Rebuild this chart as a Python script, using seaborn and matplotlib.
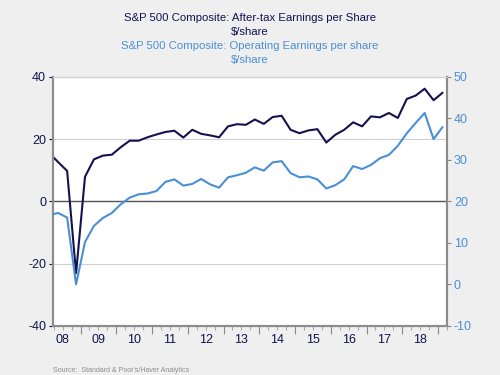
import numpy as np
import pandas as pd
import matplotlib
matplotlib.use("Agg")
import matplotlib.pyplot as plt
import seaborn as sns

# quarterly data, 2008Q1 - 2019Q1
years = [2008] * 4 + [2009] * 4 + [2010] * 4 + [2011] * 4 + [2012] * 4 + [2013] * 4 + \
        [2014] * 4 + [2015] * 4 + [2016] * 4 + [2017] * 4 + [2018] * 4 + [2019]
quarters = [1, 2, 3, 4] * 11 + [1]

# after-tax (as reported) EPS, left axis
after_tax = [15.5, 12.6, 9.8, -23.1,
             7.9, 13.5, 14.7, 15.0,
             17.4, 19.5, 19.5, 20.6,
             21.5, 22.3, 22.7, 20.5,
             23.0, 21.7, 21.2, 20.6,
             24.1, 24.8, 24.6, 26.3,
             24.9, 27.1, 27.5, 23.0,
             21.9, 22.8, 23.2, 18.9,
             21.4, 23.0, 25.4, 24.1,
             27.3, 27.0, 28.4, 26.8,
             32.9, 34.0, 36.2, 32.5,
             34.9]

# operating EPS, right axis
operating = [16.7, 17.2, 16.1, 0.0,
             10.2, 14.1, 16.0, 17.2,
             19.3, 20.9, 21.7, 21.9,
             22.5, 24.7, 25.3, 23.8,
             24.2, 25.4, 24.1, 23.3,
             25.8, 26.3, 26.9, 28.2,
             27.4, 29.4, 29.7, 26.8,
             25.8, 26.0, 25.3, 23.1,
             23.9, 25.3, 28.5, 27.8,
             28.8, 30.4, 31.2, 33.4,
             36.4, 38.9, 41.3, 35.0,
             37.9]

year_labels = ["08", "09", "10", "11", "12", "13", "14", "15", "16", "17", "18"]

navy = "#13124F"
blue = "#4A8FD6"
bg = "#EFEFEF"

df = pd.DataFrame({"year": years, "quarter": quarters,
                   "after_tax": after_tax, "operating": operating})
df["t"] = df["year"] + (df["quarter"] - 0.5) / 4

sns.set_style("white")
plt.rcParams["font.family"] = ["Liberation Sans", "DejaVu Sans"]
plt.rcParams["axes.unicode_minus"] = False

fig = plt.figure(figsize=(5, 3.75), dpi=100, facecolor=bg)
ax = fig.add_axes([0.106, 0.131, 0.788, 0.664])
ax.set_facecolor("white")
ax2 = ax.twinx()

sns.lineplot(data=df, x="t", y="after_tax", ax=ax, color=navy, linewidth=1.5, zorder=3)
sns.lineplot(data=df, x="t", y="operating", ax=ax2, color=blue, linewidth=1.5, zorder=3)

ax.set_xlim(2008.23, 2019.25)
ax.set_ylim(-40, 40)
ax2.set_ylim(-10, 50)

# left axis
ax.set_yticks([-40, -20, 0, 20, 40])
ax.yaxis.grid(True, color="#D0D0D0", linewidth=0.8)
ax.axhline(0, color="#555555", linewidth=1.0, zorder=2)
ax.tick_params(axis="y", colors=navy, labelsize=9, length=3, width=0.8,
               direction="out", left=True, pad=2)

# right axis
ax2.set_yticks([-10, 0, 10, 20, 30, 40, 50])
ax2.tick_params(axis="y", labelcolor=blue, color="#888888", labelsize=9, length=3,
                width=0.8, direction="out", right=True, pad=2)
ax2.grid(False)

# x axis: year boundaries (long) and quarters (short)
ax.set_xticks(np.arange(2009, 2020))
ax.set_xticklabels([])
ax.set_xticks(np.arange(2008.25, 2019.3, 0.25), minor=True)
ax.tick_params(axis="x", which="major", length=6, width=0.8, color="#888888", bottom=True)
ax.tick_params(axis="x", which="minor", length=3, width=0.8, color="#AAAAAA", bottom=True)

sec = ax.secondary_xaxis("bottom")
sec.set_xticks(np.arange(2008, 2019) + 0.5)
sec.set_xticklabels(year_labels)
sec.tick_params(length=0, labelsize=9, pad=6, labelcolor=navy)
sec.spines["bottom"].set_visible(False)

for a in (ax, ax2):
    for side in ("left", "right", "bottom"):
        a.spines[side].set_color("#8C8C8C")
        a.spines[side].set_linewidth(1.5)
    a.spines["top"].set_color("#D0D0D0")
    a.spines["top"].set_linewidth(0.8)
    a.set_xlabel("")
    a.set_ylabel("")

# titles
fig.text(0.5, 0.953, "S&P 500 Composite: After-tax Earnings per Share", ha="center",
         va="center", fontsize=8.2, color=navy)
fig.text(0.5, 0.915, "$/share", ha="center", va="center", fontsize=8.2, color=navy)
fig.text(0.5, 0.878, "S&P 500 Composite: Operating Earnings per share", ha="center",
         va="center", fontsize=8.2, color=blue)
fig.text(0.5, 0.840, "$/share", ha="center", va="center", fontsize=8.2, color=blue)

fig.text(0.106, 0.004, "Source:  Standard & Poor's/Haver Analytics", ha="left",
         va="bottom", fontsize=5, color="#8C8C8C")

fig.savefig("out.png", dpi=100, facecolor=bg)
